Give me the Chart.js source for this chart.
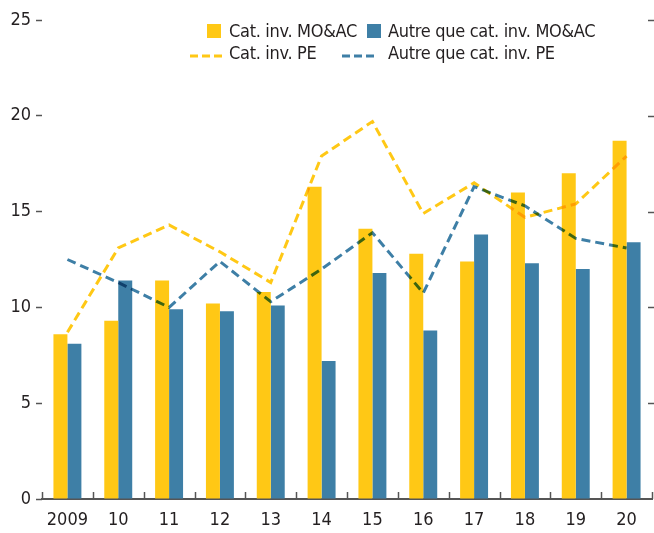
<!DOCTYPE html>
<html>
<head>
<meta charset="utf-8">
<script src="https://cdn.jsdelivr.net/npm/chart.js@4"></script>
<style>
  html, body { margin: 0; padding: 0; background: #fff; }
  #wrap { position: relative; width: 654px; height: 533px; }
  .legend { position: absolute; font-family: 'Liberation Sans Narrow', 'DejaVu Sans Condensed', sans-serif; font-size: 18px; letter-spacing: -0.3px; color: #231f20; line-height: 22px; white-space: nowrap; }
  .legend.mk { line-height: 0; }
</style>
</head>
<body>
<div id="wrap">
  <canvas id="chart" width="654" height="533"></canvas>
</div>
<script>
const years = ['2009', '10', '11', '12', '13', '14', '15', '16', '17', '18', '19', '20']
const igBars = [8.6, 9.3, 11.4, 10.2, 10.8, 16.3, 14.1, 12.8, 12.4, 16.0, 17.0, 18.7]
const hyBars = [8.1, 11.4, 9.9, 9.8, 10.1, 7.2, 11.8, 8.8, 13.8, 12.3, 12.0, 13.4]
const igLine = [8.7, 13.1, 14.3, 12.9, 11.3, 17.9, 19.7, 14.9, 16.5, 14.7, 15.4, 17.9]
const hyLine = [12.5, 11.3, 10.0, 12.4, 10.3, 12.0, 13.9, 10.75, 16.3, 15.3, 13.6, 13.1]
const yTicks = [0, 5, 10, 15, 20, 25]

const legendItems = [
  { label: 'Cat. inv. MO&AC', type: 'box', color: '#ffc815', x: 207, tx: 229, y: 20 },
  { label: 'Autre que cat. inv. MO&AC', type: 'box', color: '#3e7fa6', x: 367, tx: 388, y: 20 },
  { label: 'Cat. inv. PE', type: 'dash', color: '#ffc815', x: 190, tx: 229, y: 42 },
  { label: 'Autre que cat. inv. PE', type: 'dash', color: '#3e7fa6', x: 342, tx: 388, y: 42 }
]

const FONT = "'Liberation Sans Narrow', 'DejaVu Sans Condensed', sans-serif"
const AXIS = '#555555'

const wrap = document.getElementById('wrap')
legendItems.forEach((it) => {
  const mk = document.createElement('div')
  mk.className = 'legend mk'
  if (it.type === 'box') {
    mk.style.left = it.x + 'px'
    mk.style.top = (it.y + 4) + 'px'
    mk.style.width = '14px'
    mk.style.height = '14px'
    mk.style.background = it.color
  } else {
    mk.style.left = it.x + 'px'
    mk.style.top = (it.y + 10) + 'px'
    mk.innerHTML = `<svg width="32" height="4"><line x1="0" y1="2" x2="32" y2="2" stroke="${it.color}" stroke-width="3" stroke-dasharray="8,4"/></svg>`
  }
  wrap.appendChild(mk)
  const tx = document.createElement('div')
  tx.className = 'legend'
  tx.style.left = it.tx + 'px'
  tx.style.top = it.y + 'px'
  tx.textContent = it.label
  wrap.appendChild(tx)
})

// lines blend with multiply over the bars
const blendLines = {
  id: 'blendLines',
  beforeDatasetDraw(chart, args) {
    if (args.meta.type === 'line') {
      chart.ctx.save()
      chart.ctx.globalCompositeOperation = 'multiply'
    }
  },
  afterDatasetDraw(chart, args) {
    if (args.meta.type === 'line') chart.ctx.restore()
  }
}

// inward ticks on x axis and right side y ticks
const extraTicks = {
  id: 'extraTicks',
  afterDraw(chart) {
    const { ctx, chartArea, scales } = chart
    const y = scales.y
    ctx.save()
    ctx.strokeStyle = AXIS
    ctx.lineWidth = 1.5
    const step = (chartArea.right - chartArea.left) / years.length
    for (let i = 0; i <= years.length; i++) {
      const px = Math.round(chartArea.left + i * step) + 0.5
      ctx.beginPath()
      ctx.moveTo(px, chartArea.bottom)
      ctx.lineTo(px, chartArea.bottom - 7)
      ctx.stroke()
    }
    yTicks.forEach((v) => {
      if (v === 0) return
      const py = Math.round(y.getPixelForValue(v)) + 0.5
      ctx.beginPath()
      ctx.moveTo(chartArea.right - 4, py)
      ctx.lineTo(chartArea.right + 2, py)
      ctx.stroke()
    })
    ctx.restore()
  }
}

new Chart(document.getElementById('chart'), {
  type: 'bar',
  data: {
    labels: years,
    datasets: [
      { type: 'line', label: 'Cat. inv. PE', data: igLine, borderColor: '#ffc815', borderWidth: 3, borderDash: [9, 5], pointRadius: 0, tension: 0, order: 0 },
      { type: 'line', label: 'Autre que cat. inv. PE', data: hyLine, borderColor: '#3e7fa6', borderWidth: 3, borderDash: [9, 5], pointRadius: 0, tension: 0, order: 0 },
      { label: 'Cat. inv. MO&AC', data: igBars, backgroundColor: '#ffc815', borderWidth: 0, order: 1 },
      { label: 'Autre que cat. inv. MO&AC', data: hyBars, backgroundColor: '#3e7fa6', borderWidth: 0, order: 1 }
    ]
  },
  options: {
    responsive: false,
    animation: false,
    layout: { padding: { top: 20, right: 2, left: 0, bottom: 0 } },
    datasets: {
      bar: { categoryPercentage: 0.55, barPercentage: 1 }
    },
    plugins: {
      legend: { display: false },
      tooltip: { enabled: false }
    },
    scales: {
      x: {
        offset: true,
        grid: { display: false, drawTicks: false },
        border: { display: true, color: AXIS, width: 2 },
        ticks: { color: '#231f20', font: { family: FONT, size: 18 }, padding: 11, maxRotation: 0, autoSkip: false },
        afterFit(scale) { scale.height = 34 }
      },
      y: {
        min: 0,
        max: 25,
        afterBuildTicks(scale) { scale.ticks = yTicks.map((v) => ({ value: v })) },
        grid: { drawOnChartArea: false, drawTicks: true, tickLength: 6, tickWidth: 1.5, tickColor: AXIS },
        border: { display: false },
        ticks: { color: '#231f20', font: { family: FONT, size: 18 }, padding: 5 },
        afterFit(scale) { scale.width = 42 }
      }
    }
  },
  plugins: [blendLines, extraTicks]
})
</script>
</body>
</html>
